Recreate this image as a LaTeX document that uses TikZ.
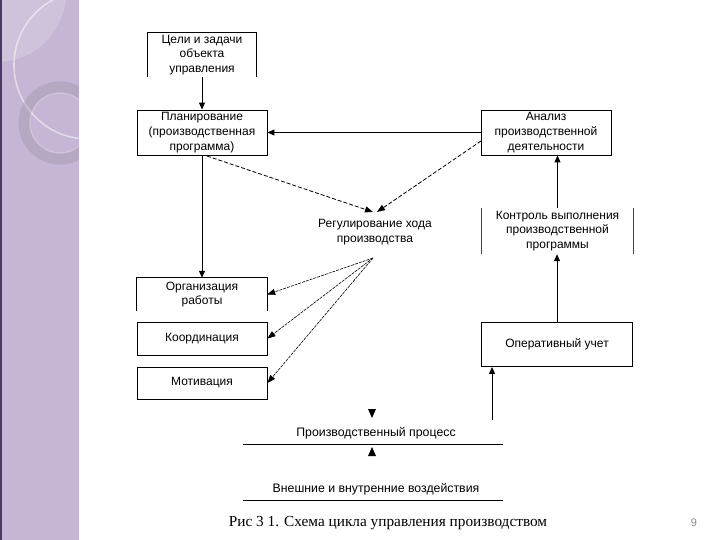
\documentclass[tikz,border=0pt]{standalone}
\usepackage{fontspec}
\setmainfont{Liberation Serif}
\setsansfont{Liberation Sans}
\usetikzlibrary{arrows.meta}
\definecolor{panel}{HTML}{C4B6D4}
\definecolor{paneldark}{HTML}{4A3A62}
\tikzset{
  txt/.style={align=center, inner sep=0pt, font=\sffamily\fontsize{12}{14.8}\selectfont},
  bx/.style={txt, draw, line width=0.9pt},
  nb/.style={txt},
  edge/.style={line width=0.9pt},
  arr/.style={line width=1pt, -{Triangle[length=7pt,width=6pt]}},
  darr/.style={line width=0.8pt, dash pattern=on 4pt off 2pt, -{Triangle[length=8pt,width=6pt]}},
  tarr/.style={line width=0.6pt, dash pattern=on 3pt off 1pt, -{Triangle[length=8pt,width=6pt]}}
}
\begin{document}
\begin{tikzpicture}[x=1pt,y=-1pt]
\useasboundingbox (0,0) rectangle (720,540);
% left decorative panel
\fill[panel] (0,0) rectangle (79,540);
\fill[white, opacity=0.18] (0,0) -- (66,0) .. controls (60,40) and (30,60) .. (0,62) -- cycle;
\begin{scope}
\clip (0,0) rectangle (79,540);
\draw[white, opacity=0.5, line width=1.6pt] (88,65) circle (74);
\draw[black!25!panel, opacity=0.3, line width=11pt] (60,123) circle (36);
\draw[white, opacity=0.2, line width=1.5pt] (60,123) circle (30);
\end{scope}
\fill[paneldark] (0,0) rectangle (2,540);
% boxes
\node[nb, minimum width=108pt, minimum height=44pt] (goal) at (202,55) {Цели и задачи\\объекта\\управления};
\draw[edge] (goal.south west) -- (goal.north west) -- (goal.north east) -- (goal.south east);
\node[bx, minimum width=130pt, minimum height=45pt] (plan) at (202,132.5) {Планирование\\(производственная\\программа)};
\node[bx, minimum width=130pt, minimum height=45pt] (anal) at (546,132.5) {Анализ\\производственной\\деятельности};
\node[nb] (reg) at (375,232) {Регулирование хода\\производства};
\node[nb, minimum width=151pt, minimum height=46pt] (ctrl) at (557.5,231) {Контроль выполнения\\производственной\\программы};
\draw[line width=0.7pt, black!75] (ctrl.north west) -- (ctrl.south west) (ctrl.north east) -- (ctrl.south east);
\node[nb, minimum width=130pt, minimum height=33pt] (org) at (202,294.5) {Организация\\работы};
\draw[edge] (org.south west) -- (org.north west) -- (org.north east) -- (org.south east);
\node[bx, minimum width=130pt, minimum height=33pt] (coord) at (202,338.5) {Координация};
\node[bx, minimum width=130pt, minimum height=32pt] (motiv) at (202,383) {Мотивация};
\node[bx, minimum width=151pt, minimum height=44pt] (oper) at (557,344.5) {Оперативный учет};
\node[nb, font=\sffamily\fontsize{12.3}{15}\selectfont] (proc) at (376,433) {Производственный процесс};
\node[nb, font=\sffamily\fontsize{12.3}{15}\selectfont] (ext) at (376,489) {Внешние и внутренние воздействия};
\node[font=\rmfamily\fontsize{15.3}{18}\selectfont, inner sep=0pt] (cap) at (388,523) {Рис 3 1. Схема цикла управления производством};
\node[font=\sffamily\fontsize{11}{13}\selectfont, text=black!45, inner sep=0pt] (pg) at (694,523) {9};
% horizontal rules
\coordinate (pl1) at (243,444); \coordinate (pl2) at (503,444);
\coordinate (el1) at (243,500); \coordinate (el2) at (503,500);
\draw[line width=0.9pt] (pl1) -- (pl2);
\draw[line width=0.9pt] (el1) -- (el2);
% small triangles
\fill (368,409) -- (376,409) -- (372,418) -- cycle;
\fill (368,456) -- (376,456) -- (372,447) -- cycle;
% connectors
\draw[arr] (goal.south) -- (plan.north);
\draw[arr] (plan.south) -- (org.north);
\draw[arr] (anal.west) -- (plan.east);
\draw[arr] (ctrl.north) -- (ctrl.north |- anal.south);
\draw[arr] (oper.north) -- (oper.north |- ctrl.south);
\coordinate (inp) at (492,420);
\draw[arr] (inp) -- (inp |- oper.south);
\coordinate (d1) at (207,156);
\coordinate (d2) at (481,141);
\coordinate (regL) at (373,212);
\coordinate (regR) at (377,212);
\draw[darr] (d1) -- (regL);
\draw[darr] (d2) -- (regR);
\coordinate (apex) at (373,258);
\draw[tarr] (apex) -- (org.east);
\draw[tarr] (apex) -- (coord.east);
\draw[tarr] (apex) -- (motiv.east);
\end{tikzpicture}
\end{document}
